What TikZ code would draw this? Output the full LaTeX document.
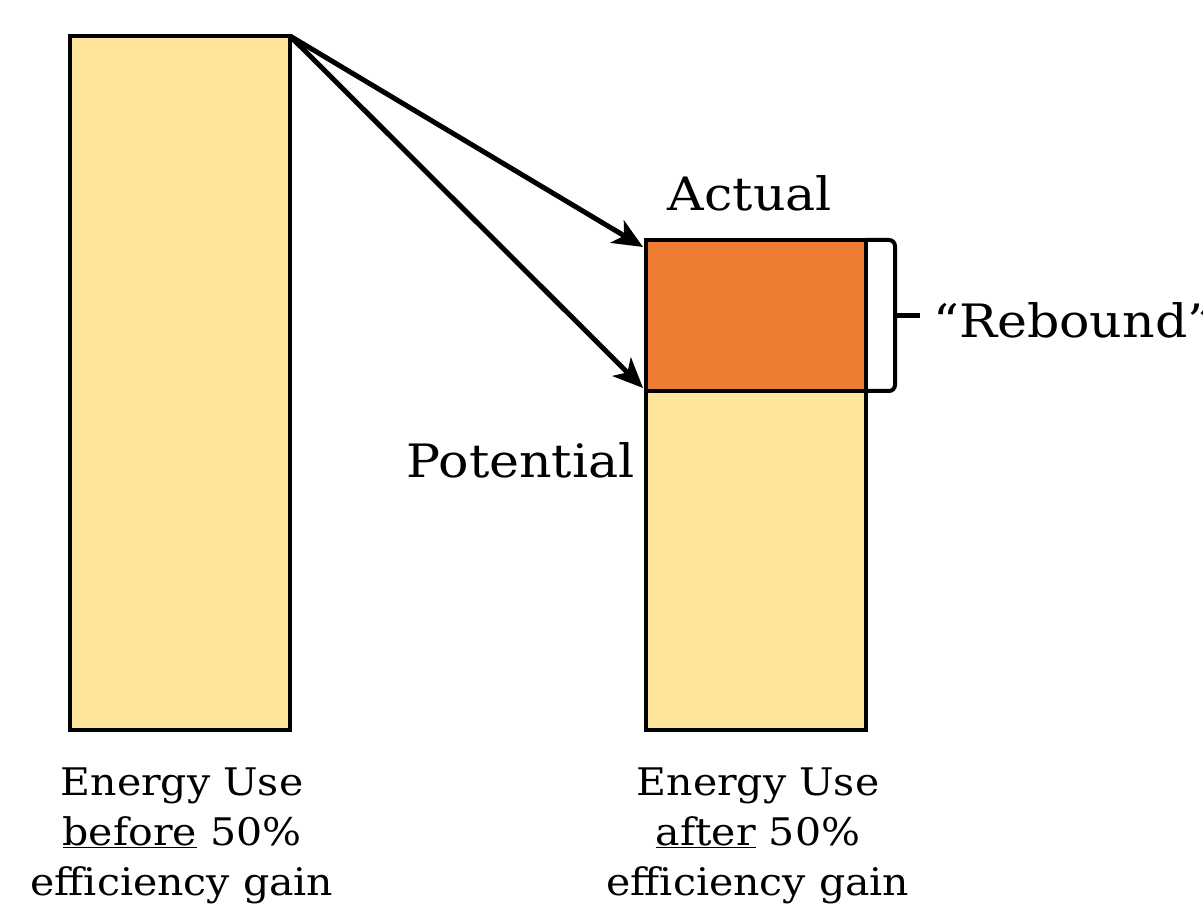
\documentclass[tikz,border=0pt]{standalone}
\usepackage{fontspec}
\setmainfont[FakeStretch=1.08]{DejaVu Serif}
\newfontfamily\bigfont[FakeStretch=1.1]{DejaVu Serif}
\usetikzlibrary{arrows.meta,calc}
\definecolor{yel}{HTML}{FFE599}
\definecolor{ora}{HTML}{ED7D31}
\tikzset{
  bar/.style={draw=black, line width=4pt, inner sep=0pt, outer sep=0pt, anchor=north west},
  arr/.style={line width=5pt, -{Stealth[length=30pt,width=26pt,inset=8pt]}},
  bigtext/.style={font=\bigfont\fontsize{46}{54}\selectfont, inner sep=0pt},
  captext/.style={font=\fontsize{38}{50}\selectfont, align=center, inner sep=0pt},
}
\begin{document}
\begin{tikzpicture}[x=1pt,y=-1pt]
\useasboundingbox (0,0) rectangle (1203,909);
\node[bar, fill=yel, minimum width=220pt, minimum height=694pt] (before) at (70,36) {};
\node[bar, fill=yel, minimum width=220pt, minimum height=339pt] (pot) at (646,391) {};
\node[bar, fill=ora, minimum width=220pt, minimum height=151pt] (reb) at (646,240) {};
\coordinate (t1) at ($(reb.north west)+(-3,7)$);
\coordinate (t2) at ($(reb.south west)+(-3,-3)$);
\draw[arr] (before.north east) -- (t1);
\draw[arr] (before.north east) -- (t2);
\draw[line width=4pt, rounded corners=6pt] (reb.north east) -- ++(29,0) coordinate (bt) -- ($(reb.south east)+(29,0)$) -- (reb.south east);
\coordinate (bm) at ($(reb.east)+(29,0)$);
\coordinate (bk) at ($(reb.east)+(54,0)$);
\draw[line width=5pt] (bm) -- (bk);
\node[bigtext] (actual) at (750,193) {Actual};
\node[bigtext, anchor=east] (potential) at (635,460) {Potential};
\node[bigtext, anchor=west] (rebound) at (933,320) {“Rebound”};
\node[captext] (lb) at (182,836) {Energy Use\\\underline{before} 50\%\\efficiency gain};
\node[captext] (lr) at (758,836) {Energy Use\\\underline{after} 50\%\\efficiency gain};
\end{tikzpicture}
\end{document}
